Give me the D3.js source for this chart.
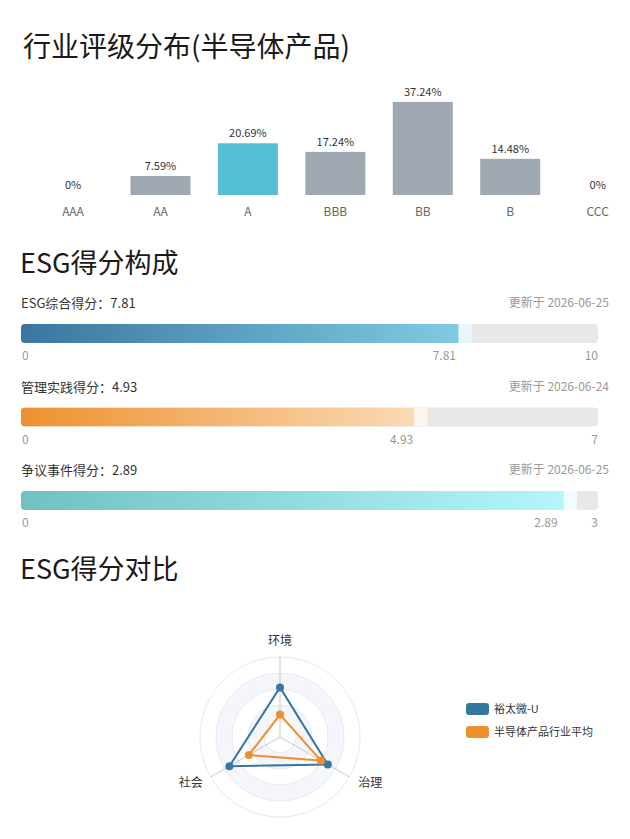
<!DOCTYPE html>
<html>
<head>
<meta charset="utf-8">
<script src="https://cdnjs.cloudflare.com/ajax/libs/d3/7.8.5/d3.min.js"></script>
<style>
  body { margin: 0; background: #fff; }
  svg { font-family: "Noto Sans CJK SC", "Noto Sans", sans-serif; }
</style>
</head>
<body>
<div id="chart"></div>
<script>
// rating distribution
var ratingCats = ["AAA", "AA", "A", "BBB", "BB", "B", "CCC"];
var ratingPct = [0, 7.59, 20.69, 17.24, 37.24, 14.48, 0];
var highlightCat = "A";

// score composition
var scoreNames = ["ESG综合得分", "管理实践得分", "争议事件得分"];
var scoreValues = [7.81, 4.93, 2.89];
var scoreMax = [10, 7, 3];
var scoreDates = ["2026-06-25", "2026-06-24", "2026-06-25"];
var scoreColors = [["#3a76a0", "#80cbe1", "#e8f5fa"],
                   ["#ee912e", "#fadab5", "#fdf6ee"],
                   ["#70c1c1", "#b4f6f9", "#f0fefe"]];

// radar comparison
var radarAxes = ["环境", "治理", "社会"];
var seriesNames = ["裕太微-U", "半导体产品行业平均"];
var companyScores = [62, 69, 73];
var industryScores = [28, 59, 45];
var radarMax = 100;
var seriesColors = ["#35779f", "#ee8f2d"];

var width = 630, height = 839;

var svg = d3.select("#chart").append("svg")
    .attr("width", width)
    .attr("height", height);

// section titles
var titles = [["行业评级分布(半导体产品)", 57, 28], ["ESG得分构成", 273, 27], ["ESG得分对比", 579, 27]];
svg.selectAll("text.title")
  .data(titles)
  .enter().append("text")
    .attr("class", "title")
    .attr("x", function(d, i) { return i === 0 ? 23 : 20; })
    .attr("y", function(d) { return d[1]; })
    .style("font-size", function(d) { return d[2] + "px"; })
    .style("fill", "#1a1a1a")
    .text(function(d) { return d[0]; });

// ---- bar chart ----
var x = d3.scaleBand()
    .domain(ratingCats)
    .range([29.3, 641.4])
    .paddingInner(0.314)
    .paddingOuter(0.157);
var y = d3.scaleLinear()
    .domain([0, 40])
    .range([195, 95]);

var bars = svg.append("g");
bars.selectAll("rect")
  .data(ratingCats)
  .enter().append("rect")
    .attr("x", function(d) { return x(d); })
    .attr("y", function(d, i) { return y(ratingPct[i]); })
    .attr("width", x.bandwidth())
    .attr("height", function(d, i) { return y(0) - y(ratingPct[i]); })
    .style("fill", function(d) { return d === highlightCat ? "#56bed4" : "#a0a8b2"; });

bars.selectAll("text.val")
  .data(ratingCats)
  .enter().append("text")
    .attr("class", "val")
    .attr("x", function(d) { return x(d) + x.bandwidth() / 2; })
    .attr("y", function(d, i) { return y(ratingPct[i]) - 6; })
    .attr("text-anchor", "middle")
    .style("font-size", "11px")
    .style("fill", "#333")
    .text(function(d, i) { return ratingPct[i] + "%"; });

var xAxis = svg.append("g")
    .attr("transform", "translate(0,195)")
    .call(d3.axisBottom(x).tickSize(0).tickPadding(12));
xAxis.select(".domain").remove();
xAxis.selectAll("text")
    .style("font-size", "12px")
    .style("fill", "#666")
    .style("font-family", "\"Noto Sans CJK SC\", sans-serif");

// ---- score bars ----
var defs = svg.append("defs");
var barX0 = 21, barW = 577, barH = 19, markW = 13;

scoreNames.forEach(function(name, i) {
  var top = 303 + i * 83.5;
  var sx = d3.scaleLinear().domain([0, scoreMax[i]]).range([barX0, barX0 + barW]);
  var lx = d3.scaleLinear().domain([0, scoreMax[i]]).range([barX0, barX0 + barW - 20]);
  var g = svg.append("g");

  g.append("text")
      .attr("x", barX0)
      .attr("y", top + 5)
      .style("font-size", "13px")
      .style("fill", "#333")
      .text(name + "：" + scoreValues[i]);
  g.append("text")
      .attr("x", 609)
      .attr("y", top + 4)
      .attr("text-anchor", "end")
      .style("font-size", "12px")
      .style("fill", "#999")
      .text("更新于 " + scoreDates[i]);

  var grad = defs.append("linearGradient").attr("id", "grad" + i);
  grad.append("stop").attr("offset", "0%").attr("stop-color", scoreColors[i][0]);
  grad.append("stop").attr("offset", "100%").attr("stop-color", scoreColors[i][1]);

  var by = top + 21;
  defs.append("clipPath").attr("id", "clip" + i)
    .append("rect")
      .attr("x", barX0).attr("y", by)
      .attr("width", barW).attr("height", barH)
      .attr("rx", 4);

  g.append("rect")
      .attr("x", barX0).attr("y", by)
      .attr("width", barW).attr("height", barH)
      .attr("rx", 4)
      .style("fill", "#e8e8e8");

  var inner = g.append("g").attr("clip-path", "url(#clip" + i + ")");
  var vx = sx(scoreValues[i]);
  inner.append("rect")
      .attr("x", barX0).attr("y", by)
      .attr("width", vx - markW - barX0).attr("height", barH)
      .style("fill", "url(#grad" + i + ")");
  inner.append("rect")
      .attr("x", vx - markW).attr("y", by)
      .attr("width", markW).attr("height", barH)
      .style("fill", scoreColors[i][2]);

  var ly = by + barH + 17;
  g.append("text")
      .attr("x", barX0 + 1).attr("y", ly)
      .style("font-size", "12px").style("fill", "#999")
      .text(0);
  g.append("text")
      .attr("x", lx(scoreValues[i])).attr("y", ly)
      .attr("text-anchor", "end")
      .style("font-size", "12px").style("fill", "#999")
      .text(scoreValues[i]);
  g.append("text")
      .attr("x", barX0 + barW).attr("y", ly)
      .attr("text-anchor", "end")
      .style("font-size", "12px").style("fill", "#999")
      .text(scoreMax[i]);
});

// ---- radar ----
var cx = 280, cy = 737, R = 80, levels = 5;
var r = d3.scaleLinear().domain([0, radarMax]).range([0, R]);
var angle = function(i) { return -Math.PI / 2 + i * 2 * Math.PI / radarAxes.length; };
var pt = function(i, v) { return [cx + r(v) * Math.cos(angle(i)), cy + r(v) * Math.sin(angle(i))]; };

var radar = svg.append("g");
var levelVals = d3.range(levels, 0, -1).map(function(k) { return radarMax * k / levels; });
radar.selectAll("circle.area")
  .data(levelVals)
  .enter().append("circle")
    .attr("cx", cx).attr("cy", cy)
    .attr("r", function(d) { return r(d); })
    .style("fill", function(d, k) { return (levels - k) % 2 === 0 ? "#f4f6fb" : "#ffffff"; })
    .style("stroke", "#e6e9f1")
    .style("stroke-width", 1);

radar.selectAll("line.axis")
  .data(radarAxes)
  .enter().append("line")
    .attr("x1", cx).attr("y1", cy)
    .attr("x2", function(d, i) { return pt(i, radarMax)[0]; })
    .attr("y2", function(d, i) { return pt(i, radarMax)[1]; })
    .style("stroke", "#c8c8c8")
    .style("stroke-width", 1);

radar.selectAll("text.axis")
  .data(radarAxes)
  .enter().append("text")
    .attr("x", function(d, i) {
      var p = pt(i, radarMax);
      return i === 0 ? p[0] : (i === 1 ? p[0] + 9 : p[0] - 8);
    })
    .attr("y", function(d, i) {
      var p = pt(i, radarMax);
      return i === 0 ? p[1] - 12 : p[1] + 10;
    })
    .attr("text-anchor", function(d, i) { return i === 0 ? "middle" : (i === 1 ? "start" : "end"); })
    .style("font-size", "12px")
    .style("fill", "#333")
    .text(function(d) { return d; });

var line = d3.line().curve(d3.curveLinearClosed);
[companyScores, industryScores].forEach(function(vals, s) {
  var pts = vals.map(function(v, i) { return pt(i, v); });
  radar.append("path")
      .attr("d", line(pts))
      .style("fill", "none")
      .style("stroke", seriesColors[s])
      .style("stroke-width", 2);
  radar.selectAll("circle.s" + s)
    .data(pts)
    .enter().append("circle")
      .attr("cx", function(d) { return d[0]; })
      .attr("cy", function(d) { return d[1]; })
      .attr("r", 4)
      .style("fill", seriesColors[s]);
});

// legend
var legend = svg.append("g");
seriesNames.forEach(function(name, s) {
  legend.append("rect")
      .attr("x", 466).attr("y", 703 + s * 23)
      .attr("width", 23).attr("height", 12)
      .attr("rx", 3)
      .style("fill", seriesColors[s]);
  legend.append("text")
      .attr("x", 494).attr("y", 713 + s * 23)
      .style("font-size", "11px")
      .style("fill", "#333")
      .text(name);
});
</script>
</body>
</html>
